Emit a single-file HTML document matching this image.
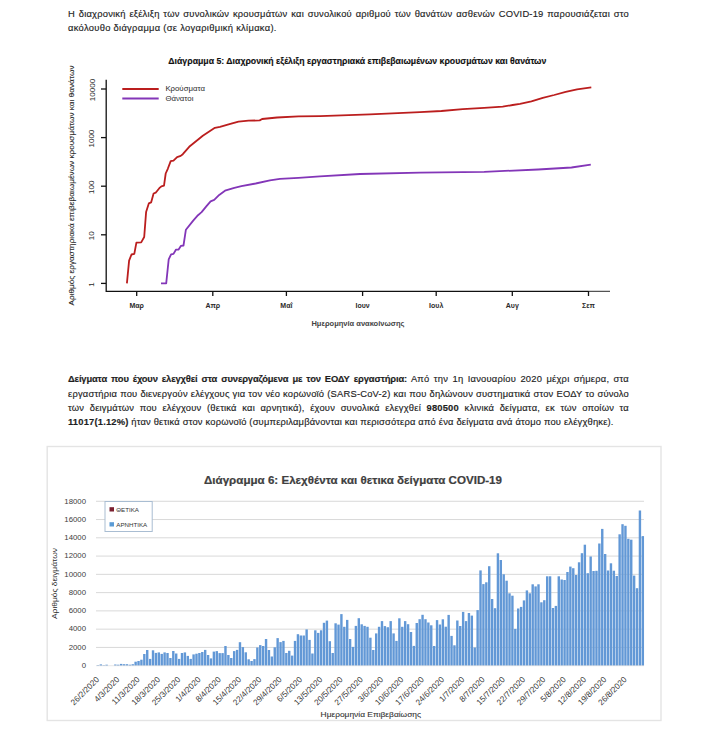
<!DOCTYPE html>
<html><head><meta charset="utf-8">
<style>
html,body{margin:0;padding:0;background:#fff;width:701px;height:743px;overflow:hidden;position:relative}
body{font-family:"Liberation Sans",sans-serif;color:#1e1e1e}
.ln{position:absolute;left:68px;white-space:nowrap;font-size:9.4px;line-height:14px;height:14px;letter-spacing:0.2px;-webkit-text-stroke:0.15px #1e1e1e}
.j{width:561px;text-align:justify;text-align-last:justify}
svg{position:absolute;left:0;top:0}
b{font-weight:bold}
</style></head><body>
<div class="ln j" style="top:6.64px">Η διαχρονική εξέλιξη των συνολικών κρουσμάτων και συνολικού αριθμού των θανάτων ασθενών COVID-19 παρουσιάζεται στο</div>
<div class="ln" style="top:21px;letter-spacing:0.286px">ακόλουθο διάγραμμα (σε λογαριθμική κλίμακα).</div>

<div class="ln j" style="top:372px"><b style="letter-spacing:-0.15px">Δείγματα που έχουν ελεγχθεί στα συνεργαζόμενα με τον ΕΟΔΥ εργαστήρια:</b> Από την 1η Ιανουαρίου 2020 μέχρι σήμερα, στα</div>
<div class="ln j" style="top:386.6px">εργαστήρια που διενεργούν ελέγχους για τον νέο κορωνοϊό (SARS-CoV-2) και που δηλώνουν συστηματικά στον ΕΟΔΥ το σύνολο</div>
<div class="ln j" style="top:400.8px">των δειγμάτων που ελέγχουν (θετικά και αρνητικά), έχουν συνολικά ελεγχθεί <b>980500</b> κλινικά δείγματα, εκ των οποίων τα</div>
<div class="ln" style="top:414.9px;letter-spacing:0.179px"><b>11017(1.12%)</b> ήταν θετικά στον κορωνοϊό (συμπεριλαμβάνονται και περισσότερα από ένα δείγματα ανά άτομο που ελέγχθηκε).</div>

<svg width="701" height="743" viewBox="0 0 701 743" style="font-family:'Liberation Sans',sans-serif">
<!-- chart 1 -->
<text x="357.3" y="64" text-anchor="middle" font-weight="bold" font-size="9.6" textLength="378" lengthAdjust="spacingAndGlyphs" fill="#111" stroke="#111" stroke-width="0.15">Διάγραμμα 5: Διαχρονική εξέλιξη εργαστηριακά επιβεβαιωμένων κρουσμάτων και θανάτων</text>
<g stroke="#111" stroke-width="1.3" fill="none">
<path d="M106.2,79.7 L106.2,291.3 L588.5,291.3"/><path d="M588.5,291.3 L610,291.3" stroke-width="0.9"/>
<line x1="101" y1="89.0" x2="106" y2="89.0"/><line x1="101" y1="137.6" x2="106" y2="137.6"/><line x1="101" y1="186.2" x2="106" y2="186.2"/><line x1="101" y1="234.8" x2="106" y2="234.8"/><line x1="101" y1="283.4" x2="106" y2="283.4"/><line x1="136.7" y1="291" x2="136.7" y2="296"/><line x1="212.8" y1="291" x2="212.8" y2="296"/><line x1="286.4" y1="291" x2="286.4" y2="296"/><line x1="362.6" y1="291" x2="362.6" y2="296"/><line x1="436.2" y1="291" x2="436.2" y2="296"/><line x1="512.3" y1="291" x2="512.3" y2="296"/><line x1="588.5" y1="291" x2="588.5" y2="296"/>
</g>
<g font-size="8" fill="#2a2a2a"><text x="94.5" y="90.0" text-anchor="middle" transform="rotate(-90 94.5 90.0)">10000</text><text x="94.5" y="138.6" text-anchor="middle" transform="rotate(-90 94.5 138.6)">1000</text><text x="94.5" y="187.2" text-anchor="middle" transform="rotate(-90 94.5 187.2)">100</text><text x="94.5" y="235.8" text-anchor="middle" transform="rotate(-90 94.5 235.8)">10</text><text x="94.5" y="284.4" text-anchor="middle" transform="rotate(-90 94.5 284.4)">1</text></g>
<g font-size="7" fill="#2a2a2a" font-weight="bold"><text x="136.7" y="308" text-anchor="middle">Μαρ</text><text x="212.8" y="308" text-anchor="middle">Απρ</text><text x="286.4" y="308" text-anchor="middle">Μαΐ</text><text x="362.6" y="308" text-anchor="middle">Ιουν</text><text x="436.2" y="308" text-anchor="middle">Ιουλ</text><text x="512.3" y="308" text-anchor="middle">Αυγ</text><text x="588.5" y="308" text-anchor="middle">Σεπ</text></g>
<text x="74" y="185.5" text-anchor="middle" font-size="7.8" fill="#2a2a2a" stroke="#2a2a2a" stroke-width="0.12" transform="rotate(-90 74 185.5)" textLength="240" lengthAdjust="spacingAndGlyphs">Αριθμός εργαστηριακά επιβεβαιωμένων κρουσμάτων και θανάτων</text>
<text x="311.4" y="326.4" font-size="7.5" font-weight="bold" fill="#444" textLength="93" lengthAdjust="spacingAndGlyphs">Ημερομηνία ανακοίνωσης</text>
<line x1="122.3" y1="89" x2="158.7" y2="89" stroke="#bb1e1e" stroke-width="2"/>
<line x1="122.3" y1="98.6" x2="158.7" y2="98.6" stroke="#8336b8" stroke-width="2"/>
<text x="165.4" y="91" font-size="7.8" fill="#2a2a2a">Κρούσματα</text>
<text x="165.4" y="100.7" font-size="7.8" fill="#2a2a2a">Θάνατοι</text>
<path d="M126.9,283.4 L129.1,260.6 L131.5,254.5 L134.3,253.9 L136.4,242.7 L141.2,242.4 L144.2,237.0 L146.1,212.1 L148.8,203.4 L151.1,202.4 L153.6,193.5 L155.7,192.7 L159.3,188.2 L161.4,186.3 L164.0,185.6 L165.7,173.5 L167.8,168.8 L170.7,161.1 L173.5,160.6 L177.1,157.1 L180.7,155.9 L182.8,154.2 L189.2,146.8 L202.8,135.7 L214.9,127.8 L220.0,126.8 L228.6,124.3 L238.5,121.7 L248.5,120.7 L259.7,120.4 L262.1,119.0 L277.1,117.5 L298.5,116.4 L320.0,116.1 L370.0,114.3 L420.0,112.1 L441.4,111.0 L462.8,109.2 L484.2,107.8 L502.7,106.7 L512.7,105.0 L520.0,103.8 L531.4,101.3 L542.8,97.8 L554.2,95.0 L565.7,91.9 L577.1,89.3 L591.3,87.3" stroke="#bb1e1e" stroke-width="1.8" fill="none" stroke-linejoin="round"/>
<path d="M161.0,283.4 L166.2,283.4 L168.7,259.4 L171.1,254.3 L173.5,253.9 L175.9,249.7 L178.6,249.5 L181.0,245.8 L183.5,245.5 L185.9,229.7 L193.2,220.6 L198.0,215.2 L201.6,212.1 L206.5,206.1 L210.6,201.3 L214.2,199.9 L219.2,194.9 L225.0,190.7 L234.3,187.8 L241.4,186.1 L255.7,183.5 L269.9,180.3 L279.9,178.8 L298.5,177.8 L319.9,176.4 L360.0,174.0 L420.0,172.6 L484.2,171.8 L538.1,169.5 L571.5,167.5 L590.8,164.6" stroke="#8336b8" stroke-width="1.8" fill="none" stroke-linejoin="round"/>

<!-- chart 2 -->
<rect x="47.2" y="446.5" width="613.8" height="274" fill="none" stroke="#e4e4e4" stroke-width="1.4"/>
<text x="353" y="484.1" text-anchor="middle" font-weight="bold" font-size="10.5" fill="#404040" stroke="#404040" stroke-width="0.2" textLength="298" lengthAdjust="spacingAndGlyphs">Διάγραμμα 6: Ελεχθέντα και θετικα δείγματα COVID-19</text>
<g stroke="#d9d9d9" stroke-width="1"><line x1="96" y1="647.43" x2="644" y2="647.43"/><line x1="96" y1="629.16" x2="644" y2="629.16"/><line x1="96" y1="610.89" x2="644" y2="610.89"/><line x1="96" y1="592.62" x2="644" y2="592.62"/><line x1="96" y1="574.35" x2="644" y2="574.35"/><line x1="96" y1="556.08" x2="644" y2="556.08"/><line x1="96" y1="537.81" x2="644" y2="537.81"/><line x1="96" y1="519.54" x2="644" y2="519.54"/><line x1="96" y1="501.27" x2="644" y2="501.27"/></g>
<g font-size="7.8" fill="#404040"><text x="86" y="668.00" text-anchor="end">0</text><text x="86" y="649.73" text-anchor="end">2000</text><text x="86" y="631.46" text-anchor="end">4000</text><text x="86" y="613.19" text-anchor="end">6000</text><text x="86" y="594.92" text-anchor="end">8000</text><text x="86" y="576.65" text-anchor="end">10000</text><text x="86" y="558.38" text-anchor="end">12000</text><text x="86" y="540.11" text-anchor="end">14000</text><text x="86" y="521.84" text-anchor="end">16000</text><text x="86" y="503.57" text-anchor="end">18000</text></g>
<g fill="#6298d6"><rect x="96.75" y="665.10" width="2.4" height="0.60"/><rect x="99.65" y="664.40" width="2.4" height="1.30"/><rect x="102.55" y="665.20" width="2.4" height="0.50"/><rect x="105.44" y="664.70" width="2.4" height="1.00"/><rect x="114.14" y="664.50" width="2.4" height="1.20"/><rect x="117.04" y="664.70" width="2.4" height="1.00"/><rect x="119.94" y="663.90" width="2.4" height="1.80"/><rect x="122.83" y="664.20" width="2.4" height="1.50"/><rect x="125.73" y="664.20" width="2.4" height="1.50"/><rect x="128.63" y="664.70" width="2.4" height="1.00"/><rect x="131.53" y="664.20" width="2.4" height="1.50"/><rect x="134.43" y="661.70" width="2.4" height="4.00"/><rect x="137.33" y="661.00" width="2.4" height="4.70"/><rect x="140.22" y="659.70" width="2.4" height="6.00"/><rect x="143.12" y="654.00" width="2.4" height="11.70"/><rect x="146.02" y="650.00" width="2.4" height="15.70"/><rect x="148.92" y="658.90" width="2.4" height="6.80"/><rect x="151.82" y="650.30" width="2.4" height="15.40"/><rect x="154.72" y="652.90" width="2.4" height="12.80"/><rect x="157.61" y="652.40" width="2.4" height="13.30"/><rect x="160.51" y="653.90" width="2.4" height="11.80"/><rect x="163.41" y="652.40" width="2.4" height="13.30"/><rect x="166.31" y="653.00" width="2.4" height="12.70"/><rect x="169.21" y="658.00" width="2.4" height="7.70"/><rect x="172.10" y="651.00" width="2.4" height="14.70"/><rect x="175.00" y="653.50" width="2.4" height="12.20"/><rect x="177.90" y="658.90" width="2.4" height="6.80"/><rect x="180.80" y="653.00" width="2.4" height="12.70"/><rect x="183.70" y="652.40" width="2.4" height="13.30"/><rect x="186.60" y="655.90" width="2.4" height="9.80"/><rect x="189.49" y="658.90" width="2.4" height="6.80"/><rect x="192.39" y="654.40" width="2.4" height="11.30"/><rect x="195.29" y="653.70" width="2.4" height="12.00"/><rect x="198.19" y="653.00" width="2.4" height="12.70"/><rect x="201.09" y="652.00" width="2.4" height="13.70"/><rect x="203.99" y="649.90" width="2.4" height="15.80"/><rect x="206.88" y="655.00" width="2.4" height="10.70"/><rect x="209.78" y="658.40" width="2.4" height="7.30"/><rect x="212.68" y="651.60" width="2.4" height="14.10"/><rect x="215.58" y="651.10" width="2.4" height="14.60"/><rect x="218.48" y="653.10" width="2.4" height="12.60"/><rect x="221.38" y="653.10" width="2.4" height="12.60"/><rect x="224.27" y="646.00" width="2.4" height="19.70"/><rect x="227.17" y="655.00" width="2.4" height="10.70"/><rect x="230.07" y="658.00" width="2.4" height="7.70"/><rect x="232.97" y="651.10" width="2.4" height="14.60"/><rect x="235.87" y="649.90" width="2.4" height="15.80"/><rect x="238.77" y="642.20" width="2.4" height="23.50"/><rect x="241.66" y="647.10" width="2.4" height="18.60"/><rect x="244.56" y="652.30" width="2.4" height="13.40"/><rect x="247.46" y="659.30" width="2.4" height="6.40"/><rect x="250.36" y="661.00" width="2.4" height="4.70"/><rect x="253.26" y="659.10" width="2.4" height="6.60"/><rect x="256.16" y="647.50" width="2.4" height="18.20"/><rect x="259.05" y="645.10" width="2.4" height="20.60"/><rect x="261.95" y="646.00" width="2.4" height="19.70"/><rect x="264.85" y="639.00" width="2.4" height="26.70"/><rect x="267.75" y="650.00" width="2.4" height="15.70"/><rect x="270.65" y="656.50" width="2.4" height="9.20"/><rect x="273.55" y="647.30" width="2.4" height="18.40"/><rect x="276.44" y="638.10" width="2.4" height="27.60"/><rect x="279.34" y="642.10" width="2.4" height="23.60"/><rect x="282.24" y="640.90" width="2.4" height="24.80"/><rect x="285.14" y="653.00" width="2.4" height="12.70"/><rect x="288.04" y="650.80" width="2.4" height="14.90"/><rect x="290.94" y="655.60" width="2.4" height="10.10"/><rect x="293.83" y="640.90" width="2.4" height="24.80"/><rect x="296.73" y="634.20" width="2.4" height="31.50"/><rect x="299.63" y="635.50" width="2.4" height="30.20"/><rect x="302.53" y="635.50" width="2.4" height="30.20"/><rect x="305.43" y="629.40" width="2.4" height="36.30"/><rect x="308.33" y="639.90" width="2.4" height="25.80"/><rect x="311.22" y="653.50" width="2.4" height="12.20"/><rect x="314.12" y="630.30" width="2.4" height="35.40"/><rect x="317.02" y="632.90" width="2.4" height="32.80"/><rect x="319.92" y="630.30" width="2.4" height="35.40"/><rect x="322.82" y="622.80" width="2.4" height="42.90"/><rect x="325.71" y="620.60" width="2.4" height="45.10"/><rect x="328.61" y="641.20" width="2.4" height="24.50"/><rect x="331.51" y="653.00" width="2.4" height="12.70"/><rect x="334.41" y="623.30" width="2.4" height="42.40"/><rect x="337.31" y="624.60" width="2.4" height="41.10"/><rect x="340.21" y="614.10" width="2.4" height="51.60"/><rect x="343.10" y="626.80" width="2.4" height="38.90"/><rect x="346.00" y="619.90" width="2.4" height="45.80"/><rect x="348.90" y="639.00" width="2.4" height="26.70"/><rect x="351.80" y="646.90" width="2.4" height="18.80"/><rect x="354.70" y="625.90" width="2.4" height="39.80"/><rect x="357.60" y="618.20" width="2.4" height="47.50"/><rect x="360.49" y="624.30" width="2.4" height="41.40"/><rect x="363.39" y="625.90" width="2.4" height="39.80"/><rect x="366.29" y="626.80" width="2.4" height="38.90"/><rect x="369.19" y="637.70" width="2.4" height="28.00"/><rect x="372.09" y="650.00" width="2.4" height="15.70"/><rect x="374.99" y="633.40" width="2.4" height="32.30"/><rect x="377.88" y="626.80" width="2.4" height="38.90"/><rect x="380.78" y="621.10" width="2.4" height="44.60"/><rect x="383.68" y="626.10" width="2.4" height="39.60"/><rect x="386.58" y="627.20" width="2.4" height="38.50"/><rect x="389.48" y="621.10" width="2.4" height="44.60"/><rect x="392.38" y="633.40" width="2.4" height="32.30"/><rect x="395.27" y="640.90" width="2.4" height="24.80"/><rect x="398.17" y="618.30" width="2.4" height="47.40"/><rect x="401.07" y="626.80" width="2.4" height="38.90"/><rect x="403.97" y="621.10" width="2.4" height="44.60"/><rect x="406.87" y="624.20" width="2.4" height="41.50"/><rect x="409.77" y="632.00" width="2.4" height="33.70"/><rect x="412.66" y="645.90" width="2.4" height="19.80"/><rect x="415.56" y="623.00" width="2.4" height="42.70"/><rect x="418.46" y="619.20" width="2.4" height="46.50"/><rect x="421.36" y="614.80" width="2.4" height="50.90"/><rect x="424.26" y="619.20" width="2.4" height="46.50"/><rect x="427.16" y="622.50" width="2.4" height="43.20"/><rect x="430.05" y="625.30" width="2.4" height="40.40"/><rect x="432.95" y="646.00" width="2.4" height="19.70"/><rect x="435.85" y="620.10" width="2.4" height="45.60"/><rect x="438.75" y="624.50" width="2.4" height="41.20"/><rect x="441.65" y="619.30" width="2.4" height="46.40"/><rect x="444.55" y="626.70" width="2.4" height="39.00"/><rect x="447.44" y="614.90" width="2.4" height="50.80"/><rect x="450.34" y="635.90" width="2.4" height="29.80"/><rect x="453.24" y="645.30" width="2.4" height="20.40"/><rect x="456.14" y="620.50" width="2.4" height="45.20"/><rect x="459.04" y="626.00" width="2.4" height="39.70"/><rect x="461.93" y="611.90" width="2.4" height="53.80"/><rect x="464.83" y="621.10" width="2.4" height="44.60"/><rect x="467.73" y="613.00" width="2.4" height="52.70"/><rect x="470.63" y="615.60" width="2.4" height="50.10"/><rect x="473.53" y="647.50" width="2.4" height="18.20"/><rect x="476.43" y="610.10" width="2.4" height="55.60"/><rect x="479.32" y="570.40" width="2.4" height="95.30"/><rect x="482.22" y="584.10" width="2.4" height="81.60"/><rect x="485.12" y="582.30" width="2.4" height="83.40"/><rect x="488.02" y="566.20" width="2.4" height="99.50"/><rect x="490.92" y="599.00" width="2.4" height="66.70"/><rect x="493.82" y="608.20" width="2.4" height="57.50"/><rect x="496.71" y="553.30" width="2.4" height="112.40"/><rect x="499.61" y="560.00" width="2.4" height="105.70"/><rect x="502.51" y="574.30" width="2.4" height="91.40"/><rect x="505.41" y="580.70" width="2.4" height="85.00"/><rect x="508.31" y="593.30" width="2.4" height="72.40"/><rect x="511.21" y="595.70" width="2.4" height="70.00"/><rect x="514.10" y="628.90" width="2.4" height="36.80"/><rect x="517.00" y="608.50" width="2.4" height="57.20"/><rect x="519.90" y="606.90" width="2.4" height="58.80"/><rect x="522.80" y="600.40" width="2.4" height="65.30"/><rect x="525.70" y="590.40" width="2.4" height="75.30"/><rect x="528.60" y="593.30" width="2.4" height="72.40"/><rect x="531.49" y="584.30" width="2.4" height="81.40"/><rect x="534.39" y="586.40" width="2.4" height="79.30"/><rect x="537.29" y="584.30" width="2.4" height="81.40"/><rect x="540.19" y="602.30" width="2.4" height="63.40"/><rect x="543.09" y="600.20" width="2.4" height="65.50"/><rect x="545.99" y="576.30" width="2.4" height="89.40"/><rect x="548.88" y="576.30" width="2.4" height="89.40"/><rect x="551.78" y="608.00" width="2.4" height="57.70"/><rect x="554.68" y="605.90" width="2.4" height="59.80"/><rect x="557.58" y="576.30" width="2.4" height="89.40"/><rect x="560.48" y="579.50" width="2.4" height="86.20"/><rect x="563.38" y="580.00" width="2.4" height="85.70"/><rect x="566.27" y="572.00" width="2.4" height="93.70"/><rect x="569.17" y="566.60" width="2.4" height="99.10"/><rect x="572.07" y="568.20" width="2.4" height="97.50"/><rect x="574.97" y="575.00" width="2.4" height="90.70"/><rect x="577.87" y="562.30" width="2.4" height="103.40"/><rect x="580.77" y="553.20" width="2.4" height="112.50"/><rect x="583.66" y="544.70" width="2.4" height="121.00"/><rect x="586.56" y="573.20" width="2.4" height="92.50"/><rect x="589.46" y="556.50" width="2.4" height="109.20"/><rect x="592.36" y="571.00" width="2.4" height="94.70"/><rect x="595.26" y="570.80" width="2.4" height="94.90"/><rect x="598.16" y="543.50" width="2.4" height="122.20"/><rect x="601.05" y="528.90" width="2.4" height="136.80"/><rect x="603.95" y="554.00" width="2.4" height="111.70"/><rect x="606.85" y="570.50" width="2.4" height="95.20"/><rect x="609.75" y="563.30" width="2.4" height="102.40"/><rect x="612.65" y="570.70" width="2.4" height="95.00"/><rect x="615.54" y="576.00" width="2.4" height="89.70"/><rect x="618.44" y="534.30" width="2.4" height="131.40"/><rect x="621.34" y="524.20" width="2.4" height="141.50"/><rect x="624.24" y="525.80" width="2.4" height="139.90"/><rect x="627.14" y="538.80" width="2.4" height="126.90"/><rect x="630.04" y="539.70" width="2.4" height="126.00"/><rect x="632.93" y="575.60" width="2.4" height="90.10"/><rect x="635.83" y="588.20" width="2.4" height="77.50"/><rect x="638.73" y="510.50" width="2.4" height="155.20"/><rect x="641.63" y="536.10" width="2.4" height="129.60"/></g>
<line x1="96" y1="665.7" x2="644" y2="665.7" stroke="#d9d9d9" stroke-width="0.6"/>
<rect x="105" y="501.5" width="47.2" height="30" fill="#fff" stroke="#a9bdd2" stroke-width="1"/>
<rect x="109.5" y="507.2" width="4.5" height="4.3" fill="#7b2030"/>
<rect x="109.5" y="522.2" width="4.5" height="4.3" fill="#5b9bd5"/>
<text x="116.3" y="511.7" font-size="6.2" fill="#333">ΘΕΤΙΚΑ</text>
<text x="116.3" y="526.7" font-size="6.2" fill="#333">ΑΡΝΗΤΙΚΑ</text>
<g font-size="8.2" fill="#383838"><text x="99.75" y="680" text-anchor="end" transform="rotate(-45 99.75 680)">26/2/2020</text><text x="120.04" y="680" text-anchor="end" transform="rotate(-45 120.04 680)">4/3/2020</text><text x="140.33" y="680" text-anchor="end" transform="rotate(-45 140.33 680)">11/3/2020</text><text x="160.61" y="680" text-anchor="end" transform="rotate(-45 160.61 680)">18/3/2020</text><text x="180.90" y="680" text-anchor="end" transform="rotate(-45 180.90 680)">25/3/2020</text><text x="201.19" y="680" text-anchor="end" transform="rotate(-45 201.19 680)">1/4/2020</text><text x="221.48" y="680" text-anchor="end" transform="rotate(-45 221.48 680)">8/4/2020</text><text x="241.77" y="680" text-anchor="end" transform="rotate(-45 241.77 680)">15/4/2020</text><text x="262.05" y="680" text-anchor="end" transform="rotate(-45 262.05 680)">22/4/2020</text><text x="282.34" y="680" text-anchor="end" transform="rotate(-45 282.34 680)">29/4/2020</text><text x="302.63" y="680" text-anchor="end" transform="rotate(-45 302.63 680)">6/5/2020</text><text x="322.92" y="680" text-anchor="end" transform="rotate(-45 322.92 680)">13/5/2020</text><text x="343.21" y="680" text-anchor="end" transform="rotate(-45 343.21 680)">20/5/2020</text><text x="363.49" y="680" text-anchor="end" transform="rotate(-45 363.49 680)">27/5/2020</text><text x="383.78" y="680" text-anchor="end" transform="rotate(-45 383.78 680)">3/6/2020</text><text x="404.07" y="680" text-anchor="end" transform="rotate(-45 404.07 680)">10/6/2020</text><text x="424.36" y="680" text-anchor="end" transform="rotate(-45 424.36 680)">17/6/2020</text><text x="444.65" y="680" text-anchor="end" transform="rotate(-45 444.65 680)">24/6/2020</text><text x="464.93" y="680" text-anchor="end" transform="rotate(-45 464.93 680)">1/7/2020</text><text x="485.22" y="680" text-anchor="end" transform="rotate(-45 485.22 680)">8/7/2020</text><text x="505.51" y="680" text-anchor="end" transform="rotate(-45 505.51 680)">15/7/2020</text><text x="525.80" y="680" text-anchor="end" transform="rotate(-45 525.80 680)">22/7/2020</text><text x="546.09" y="680" text-anchor="end" transform="rotate(-45 546.09 680)">29/7/2020</text><text x="566.38" y="680" text-anchor="end" transform="rotate(-45 566.38 680)">5/8/2020</text><text x="586.66" y="680" text-anchor="end" transform="rotate(-45 586.66 680)">12/8/2020</text><text x="606.95" y="680" text-anchor="end" transform="rotate(-45 606.95 680)">19/8/2020</text><text x="627.24" y="680" text-anchor="end" transform="rotate(-45 627.24 680)">26/8/2020</text></g>
<text x="56.5" y="583.5" text-anchor="middle" font-size="7.8" fill="#2a2a2a" transform="rotate(-90 56.5 583.5)" textLength="71" lengthAdjust="spacingAndGlyphs">Αριθμός δειγμάτων</text>
<text x="320.6" y="717" font-size="7.5" fill="#333" stroke="#333" stroke-width="0.1" textLength="100.4" lengthAdjust="spacingAndGlyphs">Ημερομηνία Επιβεβαίωσης</text>
</svg>
</body></html>
